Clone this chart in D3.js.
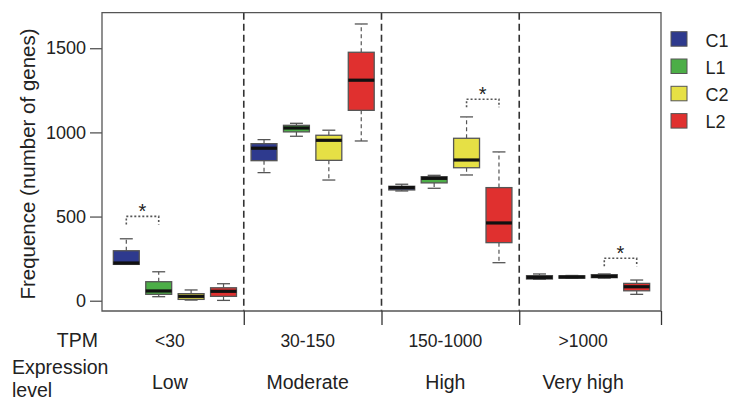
<!DOCTYPE html>
<html>
<head>
<meta charset="utf-8">
<script src="https://cdn.jsdelivr.net/npm/d3@7"></script>
<style>
  html, body { margin: 0; padding: 0; background: #fff; }
  svg { display: block; }
  text { font-family: "Liberation Sans", Arial, sans-serif; fill: #222; }
</style>
</head>
<body>
<svg id="chart" width="730" height="400"></svg>
<script>
// ---- data ----
const groups = ["<30", "30-150", "150-1000", ">1000"];
const levels = ["Low", "Moderate", "High", "Very high"];
const series = ["C1", "L1", "C2", "L2"];
const colors = ["#2e3a8e", "#4cae47", "#e6e045", "#e0302f"];
// [min, q1, median, q3, max] per group, for each series
const C1 = [[216, 216, 224, 297, 368], [761, 832, 906, 933, 957], [652, 658, 672, 680, 692], [127, 129, 139, 149, 159]];
const L1 = [[24, 38, 58, 113, 172], [977, 1003, 1026, 1042, 1054], [668, 700, 727, 737, 745], [133, 134, 141, 148, 150]];
const C2 = [[4, 8, 26, 42, 64], [717, 834, 953, 983, 1013], [747, 790, 836, 965, 1092], [134, 137, 145, 155, 159]];
const L2 = [[2, 26, 56, 77, 101], [949, 1131, 1310, 1476, 1644], [226, 345, 462, 672, 884], [38, 59, 83, 103, 123]];
const yTicks = [0, 500, 1000, 1500];
// significance brackets: group, series a, series b, value
const brackets = [
  { g: 0, a: 0, b: 1, v: 501 },
  { g: 2, a: 2, b: 3, v: 1197 },
  { g: 3, a: 2, b: 3, v: 252 }
];

(function () {
const allSeries = [C1, L1, C2, L2];
const svg = d3.select("#chart");

const pl = 102, pr = 661, pt = 12.7, pb = 311;
const x = d3.scaleLinear().domain([-0.75, 16.5]).range([pl, pr]);
const y = d3.scaleLinear().domain([-61, 1711]).range([pb, pt]);
const pos = (g, i) => g * 4.25 + i;
const unit = x(1) - x(0);
const boxW = 0.8 * unit, capW = 0.4 * unit;
const lineCol = "#555";

// separators (dashed)
const seps = [3.625, 7.875, 12.125];
svg.append("g").selectAll("line").data(seps).join("line")
  .attr("x1", d => x(d)).attr("x2", d => x(d))
  .attr("y1", pt).attr("y2", pb)
  .attr("stroke", "#333").attr("stroke-width", 1.6)
  .attr("stroke-dasharray", "7,4");

// frame
svg.append("path")
  .attr("d", `M${pl},${pb}V${pt}H${pr}V${pb}Z`)
  .attr("fill", "none").attr("stroke", lineCol).attr("stroke-width", 1.3);

// bottom axis ticks
const xAxis = d3.axisBottom(x).tickValues(seps.concat([16.5])).tickSize(14).tickFormat("");
const gx = svg.append("g").attr("transform", `translate(0,${pb})`).call(xAxis);
gx.select(".domain").remove();
gx.selectAll(".tick line").attr("stroke", "#333").attr("stroke-width", 1.3);

// y axis
const yAxis = d3.axisLeft(y).tickValues(yTicks).tickSize(12).tickPadding(4).tickFormat(d3.format("d"));
const gy = svg.append("g").attr("transform", `translate(${pl},0)`).call(yAxis);
gy.select(".domain").remove();
gy.selectAll(".tick line").attr("stroke", lineCol).attr("stroke-width", 1.3);
gy.selectAll(".tick text").style("font-size", "18px").style("font-family", "'Liberation Sans', Arial, sans-serif").attr("fill", "#222");

// y title
svg.append("text")
  .attr("transform", `translate(35,164) rotate(-90)`)
  .attr("text-anchor", "middle")
  .style("font-size", "20.5px")
  .text("Frequence (number of genes)");

// boxes
const boxData = [];
allSeries.forEach((s, i) => s.forEach((v, g) => boxData.push({ i, g, v, p: pos(g, i) })));
const bx = svg.append("g").selectAll("g").data(boxData).join("g");
// whiskers (dashed)
bx.append("line")
  .attr("x1", d => x(d.p)).attr("x2", d => x(d.p))
  .attr("y1", d => y(d.v[3])).attr("y2", d => y(d.v[4]))
  .attr("stroke", lineCol).attr("stroke-width", 1.2).attr("stroke-dasharray", "4,3");
bx.append("line")
  .attr("x1", d => x(d.p)).attr("x2", d => x(d.p))
  .attr("y1", d => y(d.v[1])).attr("y2", d => y(d.v[0]))
  .attr("stroke", lineCol).attr("stroke-width", 1.2).attr("stroke-dasharray", "4,3");
// caps
[0, 4].forEach(k => {
  bx.append("line")
    .attr("x1", d => x(d.p) - capW / 2).attr("x2", d => x(d.p) + capW / 2)
    .attr("y1", d => y(d.v[k])).attr("y2", d => y(d.v[k]))
    .attr("stroke", lineCol).attr("stroke-width", 1.3);
});
// box
bx.append("rect")
  .attr("x", d => x(d.p) - boxW / 2).attr("width", boxW)
  .attr("y", d => y(d.v[3])).attr("height", d => Math.max(1, y(d.v[1]) - y(d.v[3])))
  .attr("fill", d => colors[d.i]).attr("stroke", lineCol).attr("stroke-width", 1.3);
// median
bx.append("line")
  .attr("x1", d => x(d.p) - boxW / 2).attr("x2", d => x(d.p) + boxW / 2)
  .attr("y1", d => y(d.v[2])).attr("y2", d => y(d.v[2]))
  .attr("stroke", "#111").attr("stroke-width", 3.2);

// significance brackets
const br = svg.append("g").selectAll("g").data(brackets).join("g");
br.append("path")
  .attr("d", d => {
    const x1 = x(pos(d.g, d.a)), x2 = x(pos(d.g, d.b)), yy = y(d.v);
    return `M${x1},${yy + 8}V${yy}H${x2}V${yy + 8}`;
  })
  .attr("fill", "none").attr("stroke", "#555").attr("stroke-width", 1.6)
  .attr("stroke-dasharray", "2,2");
br.append("text")
  .attr("x", d => (x(pos(d.g, d.a)) + x(pos(d.g, d.b))) / 2)
  .attr("y", d => y(d.v) + 1.5)
  .attr("text-anchor", "middle")
  .style("font-size", "20px")
  .text("*");

// bottom labels
const gc = groups.map((_, g) => x(pos(g, 1.5)) - 5);
svg.append("g").selectAll("text").data(groups).join("text")
  .attr("x", (d, g) => gc[g]).attr("y", 346.5)
  .attr("text-anchor", "middle").style("font-size", "17.5px")
  .text(d => d);
svg.append("g").selectAll("text").data(levels).join("text")
  .attr("x", (d, g) => gc[g]).attr("y", 389)
  .attr("text-anchor", "middle").style("font-size", "19.5px")
  .text(d => d);
svg.append("text").attr("x", 98).attr("y", 346.5).attr("text-anchor", "end")
  .style("font-size", "19.5px").text("TPM");
svg.append("text").attr("x", 12).attr("y", 374).style("font-size", "19.5px").text("Expression");
svg.append("text").attr("x", 12).attr("y", 396.5).style("font-size", "19.5px").text("level");

// legend
const lg = svg.append("g").selectAll("g").data(series).join("g")
  .attr("transform", (d, i) => `translate(671,${31.7 + i * 27.3})`);
lg.append("rect").attr("width", 16).attr("height", 14.5)
  .attr("fill", (d, i) => colors[i]).attr("stroke", "#555").attr("stroke-width", 1);
lg.append("text").attr("x", 34.5).attr("y", 14.8)
  .style("font-size", "18px").text(d => d);
})();
</script>
</body>
</html>
